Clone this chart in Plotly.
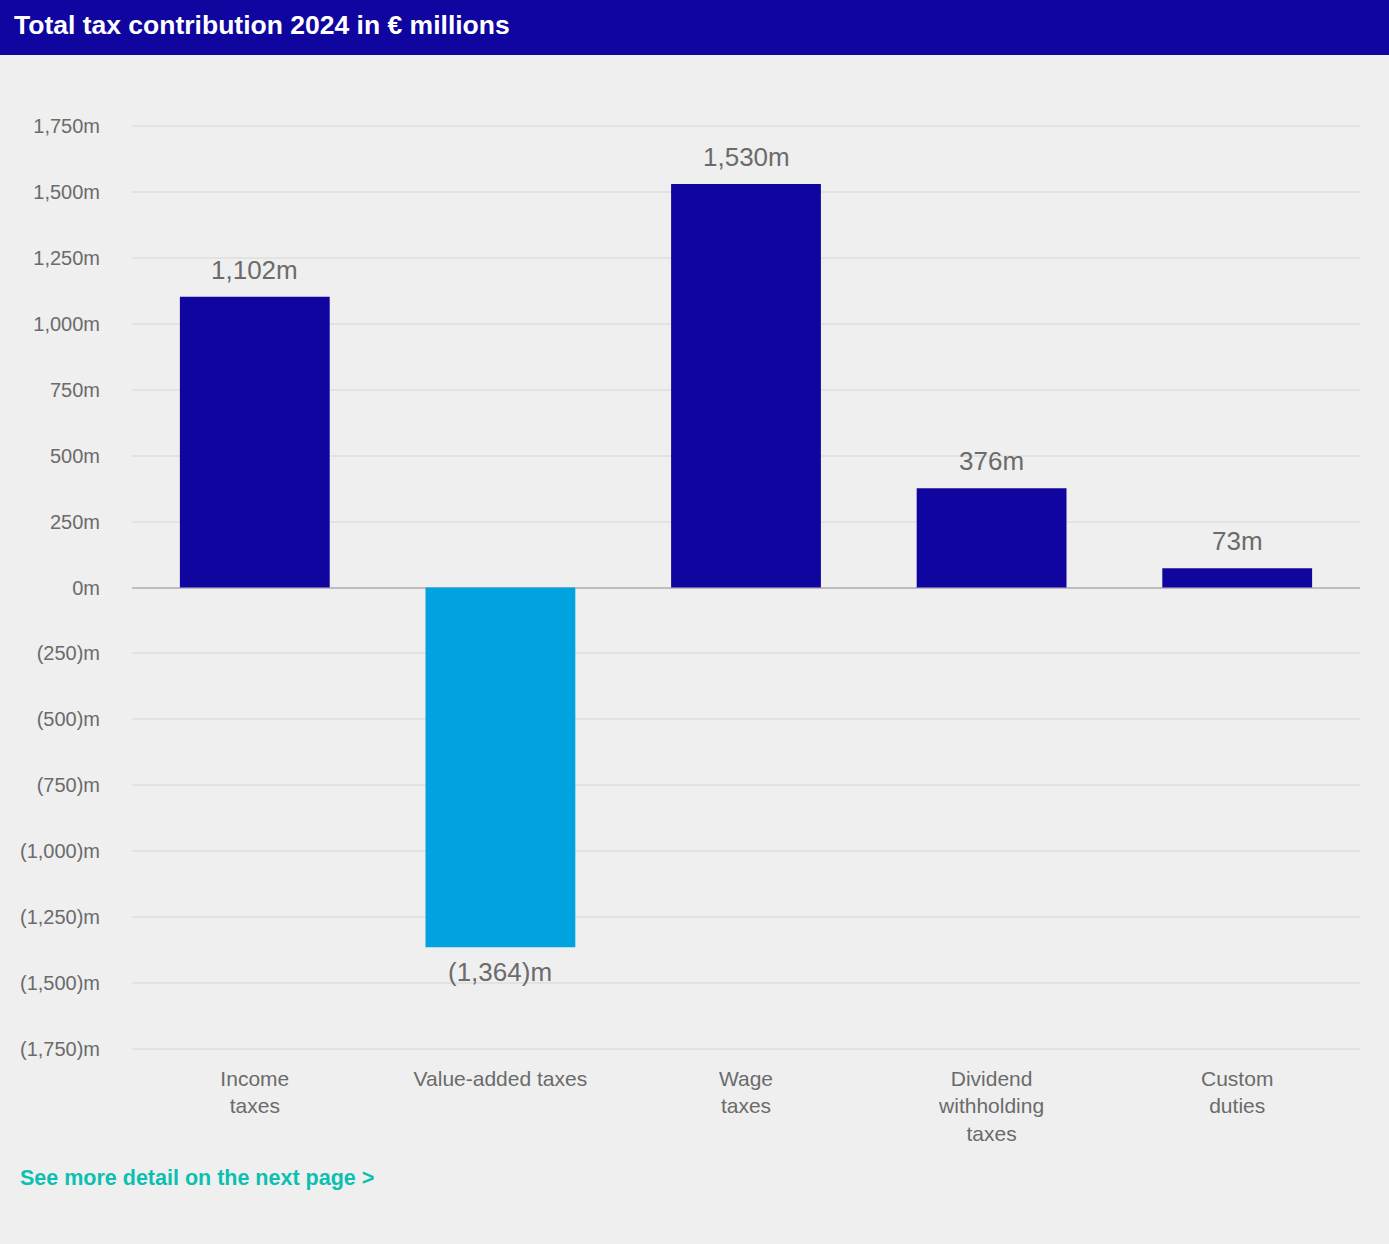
import plotly.graph_objects as go

categories = ["Income<br>taxes", "Value-added taxes", "Wage<br>taxes",
              "Dividend<br>withholding<br>taxes", "Custom<br>duties"]
values = [1102, -1364, 1530, 376, 73]
value_labels = ["1,102m", "(1,364)m", "1,530m", "376m", "73m"]
bar_colors = ["#10069f", "#00a3e0", "#10069f", "#10069f", "#10069f"]
tick_vals = [1750, 1500, 1250, 1000, 750, 500, 250, 0, -250, -500, -750, -1000, -1250, -1500, -1750]
tick_text = ["1,750m", "1,500m", "1,250m", "1,000m", "750m", "500m", "250m", "0m",
             "(250)m", "(500)m", "(750)m", "(1,000)m", "(1,250)m", "(1,500)m", "(1,750)m"]

FONT = "Liberation Sans, Arial, Helvetica, sans-serif"
GREY = "#6b6b6b"

W, H = 1389, 1244
L, R, T, B = 132, 29, 122, 191
PW, PH = W - L - R, H - T - B

fig = go.Figure()
fig.add_trace(go.Bar(
    x=categories, y=values,
    marker=dict(color=bar_colors, line=dict(width=0)),
    cliponaxis=False, hoverinfo="skip",
))

label_annotations = []
for c, v, t in zip(categories, values, value_labels):
    label_annotations.append(dict(
        x=c, y=v, xref="x", yref="y", text=t, showarrow=False,
        yanchor="bottom" if v >= 0 else "top",
        yshift=10 if v >= 0 else -8,
        font=dict(family=FONT, size=26, color=GREY),
    ))

fig.update_layout(
    width=W, height=H,
    paper_bgcolor="#efefef", plot_bgcolor="#efefef",
    margin=dict(l=L, r=R, t=T, b=B),
    bargap=0.39,
    showlegend=False,
    font=dict(family=FONT, color=GREY),
    xaxis=dict(showgrid=False, showline=False, ticks="",
               tickfont=dict(family=FONT, size=21, color=GREY),
               ticklabelstandoff=11),
    yaxis=dict(range=[-1765, 1765], tickvals=tick_vals, ticktext=tick_text,
               showgrid=True, gridcolor="#e2e2e2", gridwidth=2,
               zeroline=True, zerolinecolor="#bdbdbd", zerolinewidth=2,
               tickfont=dict(family=FONT, size=20, color=GREY),
               ticks="", ticklabelstandoff=31, showline=False),
    shapes=[dict(type="rect", xref="paper", yref="paper",
                 x0=-L/PW, x1=1 + R/PW, y0=1 + (T - 55)/PH, y1=1 + T/PH,
                 fillcolor="#10069f", line=dict(width=0), layer="above")],
    annotations=label_annotations + [
        dict(text="<b>Total tax contribution 2024 in € millions</b>", xref="paper", yref="paper",
             x=-(L - 12)/PW, y=1 + (T - 25)/PH, xanchor="left", yanchor="middle",
             showarrow=False, font=dict(family=FONT, size=26.5, color="white")),
        dict(text="<b>See more detail on the next page ></b>", xref="paper", yref="paper",
             x=-(L - 18)/PW, y=-(1178 - (H - B))/PH, xanchor="left", yanchor="middle",
             showarrow=False, font=dict(family=FONT, size=21.5, color="#0bbfb1")),
    ],
)

fig.write_html("out.html", config={"displayModeBar": False},
               post_script="document.body.style.margin='0';document.body.style.overflow='hidden';")
